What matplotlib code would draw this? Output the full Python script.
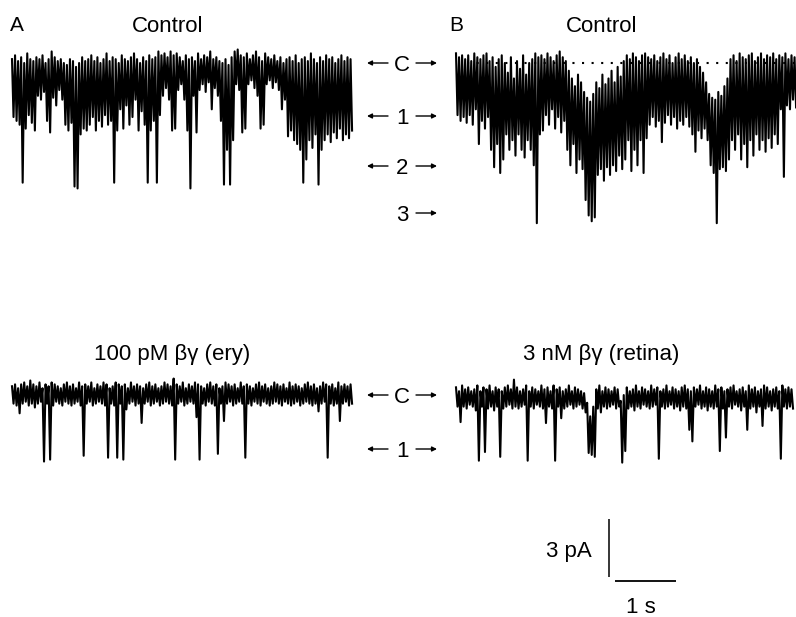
import numpy as np
import matplotlib
matplotlib.use("Agg")
import matplotlib.pyplot as plt

# ---------------- data (current in pA relative to closed level, 0.05 s bins) -------------
DT = 0.05          # s per bin
SCALE_PA = 3       # vertical scale bar
SCALE_S = 1        # horizontal scale bar

# Panel A, control: per-bin upper / lower envelope (pA)
ctrlA_hi = [0.2, 0.4, 0.1, 0.3, 0.0, 0.5, 0.2, 0.1, 0.3, 0.2,
            0.4, 0.0, 0.2, 0.6, 0.3, 0.1, 0.2, 0.0, -0.1, 0.2,
            0.1, -0.2, 0.0, 0.3, 0.1, 0.2, 0.4, 0.1, 0.3, 0.0,
            0.2, 0.5, 0.1, 0.3, 0.2, 0.0, 0.4, 0.2, 0.1, 0.3,
            0.5, 0.2, 0.0, 0.3, 0.1, 0.4, 0.2, 0.3, 0.6, 0.4,
            0.5, 0.3, 0.6, 0.4, 0.5, 0.3, 0.1, 0.4, 0.2, 0.3,
            0.1, 0.5, 0.2, 0.4, 0.3, 0.6, 0.2, 0.3, 0.1, 0.0,
            0.2, -0.1, 0.3, 0.6, 0.7, 0.4, 0.3, 0.5, 0.2, 0.4,
            0.6, 0.3, 0.1, 0.5, 0.3, 0.2, 0.4, 0.1, 0.3, 0.0,
            0.2, 0.3, 0.1, 0.4, 0.0, 0.2, 0.3, 0.1, 0.5, 0.2,
            0.0, 0.3, 0.1, 0.4, 0.2, 0.3, 0.0, 0.2, 0.4, 0.1,
            0.3, 0.2]
ctrlA_lo = [-2.8, -3.0, -3.2, -6.2, -3.4, -2.7, -3.1, -3.5, -1.7, -1.9,
            -1.5, -3.0, -3.6, -1.8, -2.2, -1.4, -1.9, -3.2, -3.5, -3.1,
            -6.4, -6.5, -3.7, -3.4, -3.5, -3.2, -2.8, -3.5, -3.0, -3.3,
            -2.7, -3.2, -3.0, -6.2, -3.5, -2.4, -3.4, -2.2, -3.2, -2.8,
            -1.9, -3.5, -2.5, -3.2, -6.2, -3.5, -3.0, -6.2, -2.7, -1.7,
            -1.3, -1.9, -3.5, -3.4, -1.4, -1.1, -1.9, -3.5, -6.5, -1.7,
            -3.6, -1.4, -1.1, -1.5, -1.0, -2.4, -1.3, -1.7, -3.0, -6.3,
            -4.5, -6.3, -4.0, -1.1, -1.4, -3.6, -3.4, -1.1, -0.9, -1.3,
            -1.7, -3.4, -3.2, -1.1, -0.9, -1.3, -1.0, -1.4, -2.4, -1.9,
            -3.8, -3.5, -4.0, -4.2, -4.5, -6.2, -5.0, -4.0, -4.4, -3.7,
            -6.3, -4.5, -4.0, -3.7, -4.1, -3.6, -3.9, -3.4, -4.0, -3.7,
            -3.9, -3.5]

# Panel B, control
ctrlB_hi = [0.5, 0.3, 0.4, 0.2, 0.4, 0.1, 0.5, 0.3, 0.2, 0.4,
            0.5, 0.1, 0.3, -0.2, 0.2, 0.4, 0.0, -0.5, 0.3, -0.8,
            0.1, -0.3, 0.4, -0.6, 0.0, 0.2, 0.5, 0.3, 0.4, 0.2,
            0.5, 0.3, 0.1, 0.4, 0.6, 0.3, 0.1, -0.4, -0.8, -1.2,
            -0.6, -1.0, -1.5, -1.8, -2.0, -1.6, -1.0, -1.3, -0.6, -1.1,
            -0.8, -0.4, -1.0, -0.2, -0.7, 0.1, 0.4, 0.2, 0.5, 0.3,
            0.1, 0.4, 0.5, 0.3, 0.2, 0.4, 0.1, 0.3, 0.5, 0.2,
            0.4, 0.0, 0.3, 0.5, 0.2, 0.4, 0.1, 0.3, 0.0, 0.2,
            -0.2, -0.5, -1.0, -1.6, -1.8, -1.9, -1.5, -1.7, -1.2, -0.8,
            0.2, 0.4, 0.1, 0.5, 0.3, 0.2, 0.4, 0.5, 0.1, 0.3,
            0.5, 0.2, 0.4, 0.3, 0.5, 0.2, 0.4, 0.3, 0.5, 0.2,
            0.4, 0.3]
ctrlB_lo = [-2.7, -3.0, -2.8, -3.1, -2.7, -3.2, -2.4, -4.2, -3.0, -3.4,
            -2.8, -4.5, -5.4, -4.2, -5.7, -5.0, -3.7, -4.5, -4.0, -4.8,
            -3.7, -4.5, -4.9, -4.0, -4.5, -5.3, -8.3, -3.7, -3.5, -2.7,
            -3.2, -2.4, -3.4, -2.8, -3.6, -3.0, -4.5, -5.3, -4.2, -5.7,
            -5.0, -5.5, -7.1, -7.9, -8.2, -8.0, -5.8, -5.5, -6.1, -5.4,
            -5.8, -5.3, -5.6, -4.8, -5.5, -5.0, -4.0, -5.6, -4.5, -5.3,
            -4.0, -5.7, -3.9, -3.2, -2.8, -3.3, -3.0, -4.1, -3.1, -2.7,
            -3.2, -2.8, -3.4, -3.0, -3.2, -2.8, -3.3, -3.7, -4.6, -3.5,
            -3.9, -3.4, -4.0, -5.3, -5.7, -8.3, -5.5, -5.4, -5.6, -5.0,
            -4.0, -4.5, -3.7, -5.0, -4.2, -5.4, -4.0, -4.8, -3.7, -4.5,
            -4.0, -4.6, -3.9, -4.4, -3.7, -4.2, -2.4, -5.9, -2.2, -2.4,
            -1.9, -2.3]

# Panel A, 100 pM beta-gamma (ery)
eryA_hi = [0.4, 0.5, 0.3, 0.5, 0.6, 0.4, 0.7, 0.5, 0.4, 0.6,
           0.3, 0.5, 0.4, 0.6, 0.5, 0.4, 0.3, 0.5, 0.6, 0.4,
           0.5, 0.3, 0.6, 0.4, 0.5, 0.4, 0.6, 0.3, 0.5, 0.4,
           0.6, 0.5, 0.3, 0.4, 0.6, 0.5, 0.4, 0.5, 0.3, 0.6,
           0.4, 0.5, 0.4, 0.3, 0.5, 0.6, 0.4, 0.5, 0.3, 0.4,
           0.6, 0.5, 0.4, 0.8, 0.5, 0.4, 0.6, 0.3, 0.5, 0.4,
           0.6, 0.5, 0.4, 0.3, 0.5, 0.6, 0.4, 0.5, 0.3, 0.4,
           0.6, 0.5, 0.4, 0.5, 0.3, 0.6, 0.4, 0.5, 0.4, 0.3,
           0.5, 0.6, 0.4, 0.5, 0.3, 0.4, 0.6, 0.5, 0.4, 0.5,
           0.3, 0.6, 0.4, 0.5, 0.4, 0.3, 0.5, 0.6, 0.4, 0.5,
           0.3, 0.4, 0.6, 0.5, 0.4, 0.5, 0.3, 0.6, 0.4, 0.5,
           0.4, 0.5]
eryA_lo = [-0.5, -0.6, -1.0, -0.5, -0.4, -0.6, -0.5, -0.7, -0.5, -0.4,
           -3.5, -0.5, -3.4, -0.6, -0.4, -0.5, -0.6, -0.4, -0.5, -0.6,
           -0.5, -0.4, -0.6, -3.2, -0.5, -0.4, -0.6, -0.5, -0.4, -0.5,
           -0.6, -3.3, -0.5, -0.6, -3.3, -0.5, -3.4, -0.8, -0.5, -0.4,
           -0.6, -0.5, -1.5, -0.5, -0.4, -0.6, -0.5, -0.4, -0.6, -0.5,
           -0.4, -0.5, -0.6, -3.4, -0.5, -0.4, -0.6, -0.5, -0.4, -0.5,
           -1.2, -3.4, -0.5, -0.6, -0.4, -0.5, -0.6, -3.1, -0.5, -1.4,
           -0.5, -0.4, -0.6, -0.5, -0.4, -0.5, -3.3, -0.5, -0.6, -0.4,
           -0.5, -0.6, -0.4, -0.5, -0.6, -0.5, -0.4, -0.5, -0.6, -0.4,
           -0.5, -0.6, -0.5, -0.4, -0.6, -0.5, -0.4, -0.5, -0.6, -0.5,
           -0.9, -0.5, -0.4, -3.3, -0.5, -0.6, -0.5, -1.4, -0.5, -0.4,
           -0.6, -0.5]

# Panel B, 3 nM beta-gamma (retina)
retB_hi = [0.5, 0.3, 0.6, 0.4, 0.5, 0.3, 0.4, 0.6, 0.3, 0.5,
           0.4, 0.6, 0.3, 0.5, 0.4, 0.3, 0.5, 0.6, 0.4, 0.9,
           0.5, 0.3, 0.4, 0.6, 0.3, 0.5, 0.4, 0.3, 0.6, 0.4,
           0.5, 0.3, 0.6, 0.4, 0.5, 0.3, 0.4, 0.6, 0.3, 0.5,
           0.4, 0.3, 0.2, -0.3, -1.0, -0.5, 0.4, 0.6, 0.3, 0.5,
           0.4, 0.3, 0.5, 0.4, -0.2, 0.1, 0.5, 0.3, 0.4, 0.6,
           0.3, 0.5, 0.4, 0.3, 0.6, 0.4, 0.5, 0.3, 0.4, 0.6,
           0.3, 0.5, 0.4, 0.3, 0.5, 0.6, 0.4, 0.3, 0.5, 0.4,
           0.6, 0.3, 0.5, 0.4, 0.3, 0.6, 0.4, 0.5, 0.3, 0.4,
           0.5, 0.6, 0.3, 0.4, 0.5, 0.3, 0.6, 0.4, 0.5, 0.3,
           0.4, 0.6, 0.5, 0.3, 0.4, 0.5, 0.3, 0.6, 0.4, 0.5,
           0.4]
retB_lo = [-0.5, -1.3, -0.5, -0.6, -0.4, -0.5, -0.7, -3.3, -0.5, -2.85,
           -0.6, -0.5, -0.7, -0.5, -3.1, -0.6, -0.5, -0.4, -0.6, -0.5,
           -0.6, -0.5, -0.4, -3.3, -0.5, -0.6, -0.4, -0.5, -0.6, -1.35,
           -0.5, -0.6, -3.3, -0.5, -1.1, -0.6, -0.5, -0.4, -0.6, -0.5,
           -0.4, -0.6, -0.8, -2.9, -3.0, -3.1, -0.6, -0.8, -0.5, -0.6,
           -0.5, -0.4, -0.6, -0.5, -3.4, -2.8, -0.6, -0.5, -0.7, -0.5,
           -0.6, -0.4, -0.5, -0.6, -0.5, -0.4, -3.2, -0.5, -0.6, -0.5,
           -0.4, -0.6, -0.5, -0.7, -0.5, -0.6, -1.7, -2.3, -0.5, -0.4,
           -0.6, -0.5, -0.7, -0.5, -0.6, -0.5, -2.8, -0.6, -2.1, -0.5,
           -0.6, -0.4, -0.5, -0.7, -0.5, -1.7, -0.6, -0.5, -0.8, -0.5,
           -1.5, -0.6, -0.5, -0.7, -0.5, -0.6, -3.2, -0.5, -0.6, -0.5,
           -0.6]

panel_letters = ["A", "B"]
titles_top = ["Control", "Control"]
titles_bottom = ["100 pM \u03b2\u03b3 (ery)", "3 nM \u03b2\u03b3 (retina)"]
levels_top = ["C", "1", "2", "3"]
levels_bottom = ["C", "1"]

# ---------------- layout ----------------
W, H, DPI = 796, 617, 100
PX_PER_S = 61.0
PX_PER_PA = 19.3
FONT = ["Liberation Sans", "DejaVu Sans"]

fig = plt.figure(figsize=(W / DPI, H / DPI), dpi=DPI)
fig.patch.set_facecolor("white")

ov = fig.add_axes([0, 0, 1, 1])
ov.set_xlim(0, W)
ov.set_ylim(H, 0)
ov.axis("off")


def trace_axes(x0_px, base_px, n_bins):
    width_px = n_bins * DT * PX_PER_S + 6
    top_px = base_px - 40
    bot_px = base_px + 180
    ax = fig.add_axes([x0_px / W, 1 - bot_px / H, width_px / W, (bot_px - top_px) / H])
    ax.set_xlim(0, width_px / PX_PER_S)
    ax.set_ylim(-(bot_px - base_px) / PX_PER_PA, (base_px - top_px) / PX_PER_PA)
    ax.axis("off")
    return ax


def draw_trace(ax, hi, lo):
    n = min(len(hi), len(lo))
    t = np.arange(n) * DT
    xs = np.empty(2 * n)
    ys = np.empty(2 * n)
    xs[0::2] = t
    xs[1::2] = t + DT / 2
    ys[0::2] = np.asarray(hi[:n])
    ys[1::2] = np.asarray(lo[:n])
    ax.plot(xs, ys, color="black", lw=1.5, solid_joinstyle="round", clip_on=False)


axA1 = trace_axes(12, 63, len(ctrlA_lo))
draw_trace(axA1, ctrlA_hi, ctrlA_lo)
axB1 = trace_axes(456, 63, len(ctrlB_lo))
draw_trace(axB1, ctrlB_hi, ctrlB_lo)
# dotted closed level in B control
x0f = (467 - 456) / (axB1.get_position().width * W)
axB1.axhline(0, xmin=x0f, xmax=1.0, color="black", lw=1.5, linestyle=(0, (1, 3.6)))

axA2 = trace_axes(12, 394, len(eryA_lo))
draw_trace(axA2, eryA_hi, eryA_lo)
axB2 = trace_axes(456, 397, len(retB_lo))
draw_trace(axB2, retB_hi, retB_lo)

# scale bars
sb = fig.add_axes([600 / W, 1 - 590 / H, 90 / W, 80 / H])
sb.set_xlim(0, 90 / PX_PER_S)
sb.set_ylim(0, 80 / PX_PER_PA)
sb.axis("off")
vx = 9 / PX_PER_S
vy0 = 13 / PX_PER_PA
sb.plot([vx, vx], [vy0, vy0 + SCALE_PA], color="black", lw=1.1, solid_capstyle="butt")
hx0 = 15 / PX_PER_S
hy = 9 / PX_PER_PA
sb.plot([hx0, hx0 + SCALE_S], [hy, hy], color="black", lw=1.3, solid_capstyle="butt")
ov.text(569, 557, f"{SCALE_PA} pA", ha="center", va="baseline", fontsize=16, family=FONT)
ov.text(641, 613, f"{SCALE_S} s", ha="center", va="baseline", fontsize=16, family=FONT)

# titles and panel letters
for x, s in zip([17, 456], panel_letters):
    ov.text(x, 31, s, ha="center", va="baseline", fontsize=15, family=FONT)
for x, s in zip([168, 602], titles_top):
    ov.text(x, 32, s, ha="center", va="baseline", fontsize=16, family=FONT)
for x, s in zip([172, 601], titles_bottom):
    ov.text(x, 360, s, ha="center", va="baseline", fontsize=16, family=FONT)

# level markers between panels
arrow_kw = dict(arrowstyle="-|>", lw=1.0, color="black", mutation_scale=7,
                shrinkA=0, shrinkB=0)


def level_marker(label, y, left=True):
    ov.text(402, y + 8, label, ha="center", va="baseline", fontsize=16, family=FONT)
    if left:
        ov.annotate("", xy=(367, y), xytext=(388, y), arrowprops=arrow_kw)
    ov.annotate("", xy=(437, y), xytext=(416, y), arrowprops=arrow_kw)


for lab, y in zip(levels_top, [63, 116, 166, 213]):
    level_marker(lab, y, left=(lab != "3"))
for lab, y in zip(levels_bottom, [395, 449]):
    level_marker(lab, y)

fig.savefig("out.png", dpi=DPI, facecolor="white")
